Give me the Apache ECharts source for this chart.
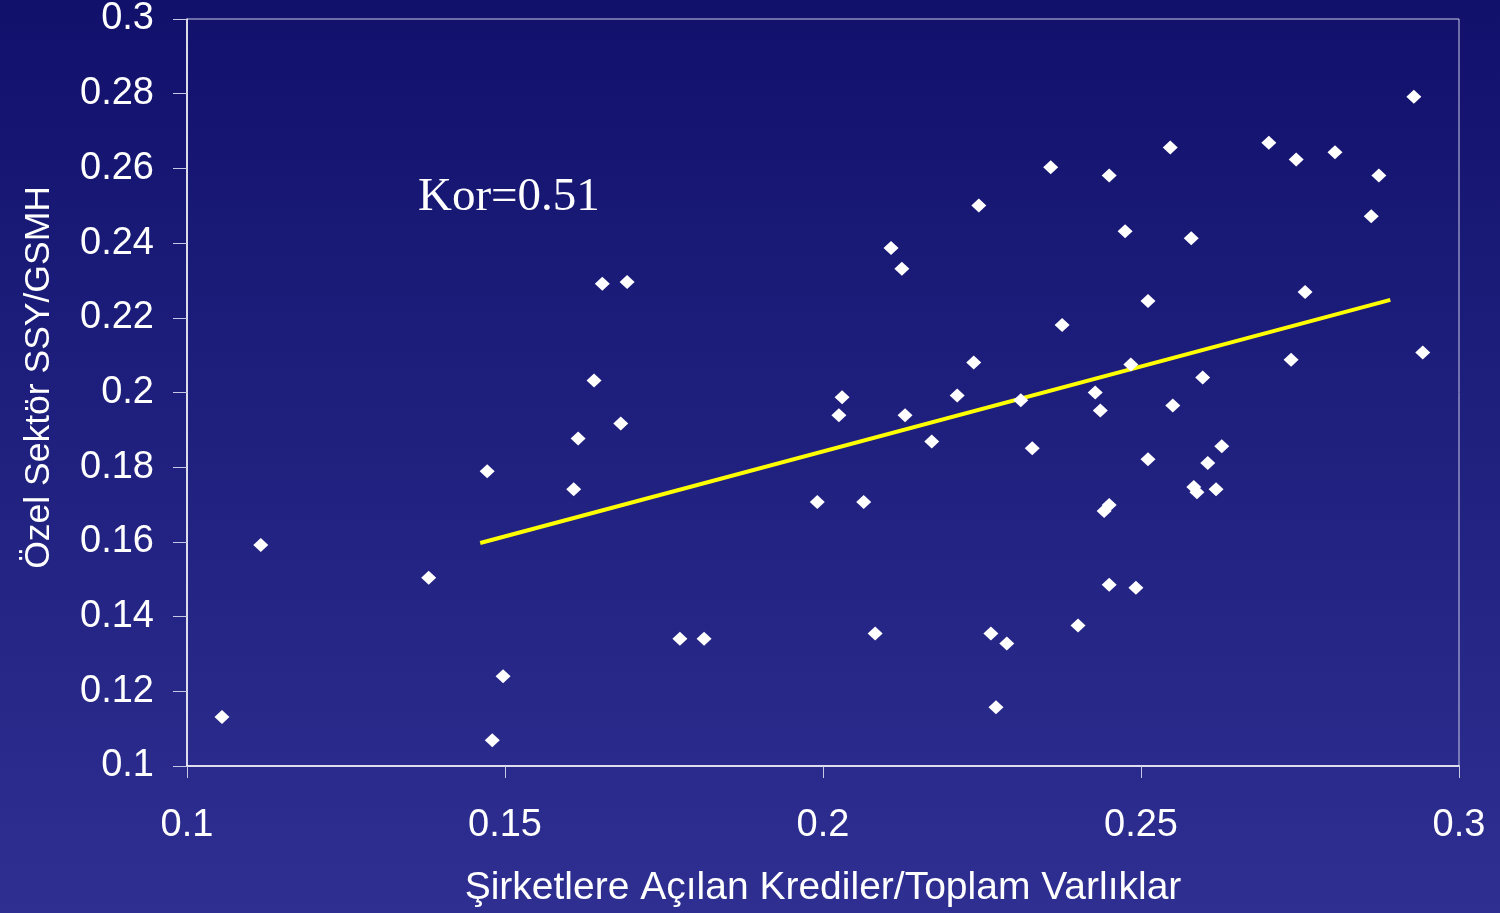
<!DOCTYPE html>
<html>
<head>
<meta charset="utf-8">
<style>
html, body { margin: 0; padding: 0; }
#chart { width: 1500px; height: 913px; }
</style>
<script src="https://cdn.jsdelivr.net/npm/echarts@6/dist/echarts.min.js"></script>
</head>
<body>
<div id="chart"></div>
<script>
// x: Şirketlere açılan krediler / toplam varlıklar, y: özel sektör SSY / GSMH
const xValues = [
    0.1055, 0.1116, 0.1380, 0.1472, 0.1480, 0.1497, 0.1608, 0.1615, 0.1640, 0.1653,
    0.1682, 0.1692, 0.1775, 0.1813, 0.1991, 0.2025, 0.2030, 0.2064, 0.2082, 0.2107,
    0.2124, 0.2129, 0.2171, 0.2211, 0.2237, 0.2245, 0.2264, 0.2272, 0.2289, 0.2311,
    0.2329, 0.2358, 0.2376, 0.2401, 0.2428, 0.2436, 0.2442, 0.2450, 0.2450, 0.2450,
    0.2475, 0.2484, 0.2492, 0.2511, 0.2511, 0.2546, 0.2550, 0.2579, 0.2583, 0.2588,
    0.2597, 0.2605, 0.2618, 0.2627, 0.2701, 0.2736, 0.2744, 0.2758, 0.2805, 0.2862,
    0.2874, 0.2929, 0.2943
];
const yValues = [
    0.1131, 0.1592, 0.1504, 0.1789, 0.1069, 0.1240, 0.1741, 0.1877, 0.2032, 0.2291,
    0.1917, 0.2296, 0.1341, 0.1341, 0.1707, 0.1939, 0.1987, 0.1707, 0.1355, 0.2387,
    0.2331, 0.1939, 0.1869, 0.1992, 0.2080, 0.2501, 0.1355, 0.1157, 0.1328, 0.1979,
    0.1851, 0.2603, 0.2181, 0.1376, 0.2000, 0.1952, 0.1683, 0.1699, 0.2581, 0.1485,
    0.2432, 0.2075, 0.1477, 0.1821, 0.2245, 0.2656, 0.1965, 0.2413, 0.1747, 0.1733,
    0.2040, 0.1811, 0.1741, 0.1856, 0.2669, 0.2088, 0.2624, 0.2269, 0.2643, 0.2472,
    0.2581, 0.2792, 0.2107
];
// trend line end points
const trendX = [0.1461, 0.2892];
const trendY = [0.1597, 0.2248];

const points = xValues.map((x, i) => [x, yValues[i]]);
const trend = trendX.map((x, i) => [x, trendY[i]]);

const fmt = v => String(+v.toFixed(2));

var chart = echarts.init(document.getElementById('chart'));

chart.setOption({
    backgroundColor: {
        type: 'linear', x: 0, y: 0, x2: 0, y2: 1,
        colorStops: [
            { offset: 0, color: '#11116c' },
            { offset: 1, color: '#2f2f92' }
        ]
    },
    animation: false,
    grid: {
        left: 187,
        top: 17,
        right: 41,
        bottom: 147,
        show: true,
        borderColor: '#c8c8e4',
        borderWidth: 1
    },
    xAxis: {
        type: 'value',
        min: 0.1,
        max: 0.3,
        interval: 0.05,
        name: 'Şirketlere Açılan Krediler/Toplam Varlıklar',
        nameLocation: 'middle',
        nameGap: 103,
        nameTextStyle: {
            color: '#fff',
            fontFamily: 'Liberation Sans',
            fontSize: 39
        },
        axisLine: { lineStyle: { color: '#fff', width: 1.5 } },
        axisTick: { length: 12, lineStyle: { color: '#c8c8e4' } },
        axisLabel: {
            color: '#fff',
            fontFamily: 'Liberation Sans',
            fontSize: 38,
            margin: 41,
            formatter: fmt
        },
        splitLine: { show: false }
    },
    yAxis: {
        type: 'value',
        min: 0.1,
        max: 0.3,
        interval: 0.02,
        name: 'Özel Sektör SSY/GSMH',
        nameLocation: 'middle',
        nameGap: 130,
        nameTextStyle: {
            color: '#fff',
            fontFamily: 'Liberation Sans',
            fontSize: 35.5,
            padding: [0, 0, 0, 30]
        },
        axisLine: { lineStyle: { color: '#fff', width: 1.5 } },
        axisTick: { length: 14, lineStyle: { color: '#c8c8e4' } },
        axisLabel: {
            color: '#fff',
            fontFamily: 'Liberation Sans',
            fontSize: 38,
            margin: 33,
            formatter: fmt
        },
        splitLine: { show: false }
    },
    graphic: [{
        type: 'text',
        left: 418,
        top: 174,
        style: {
            text: 'Kor=0.51',
            fill: '#fff',
            fontFamily: 'Liberation Serif',
            fontSize: 47
        }
    }],
    series: [{
        type: 'scatter',
        data: points,
        symbol: 'diamond',
        symbolSize: [15, 14],
        itemStyle: { color: '#fff', opacity: 1 },
        z: 3
    }, {
        type: 'line',
        data: trend,
        symbol: 'none',
        lineStyle: { color: '#ffff00', width: 4 },
        z: 2
    }]
});
</script>
</body>
</html>
